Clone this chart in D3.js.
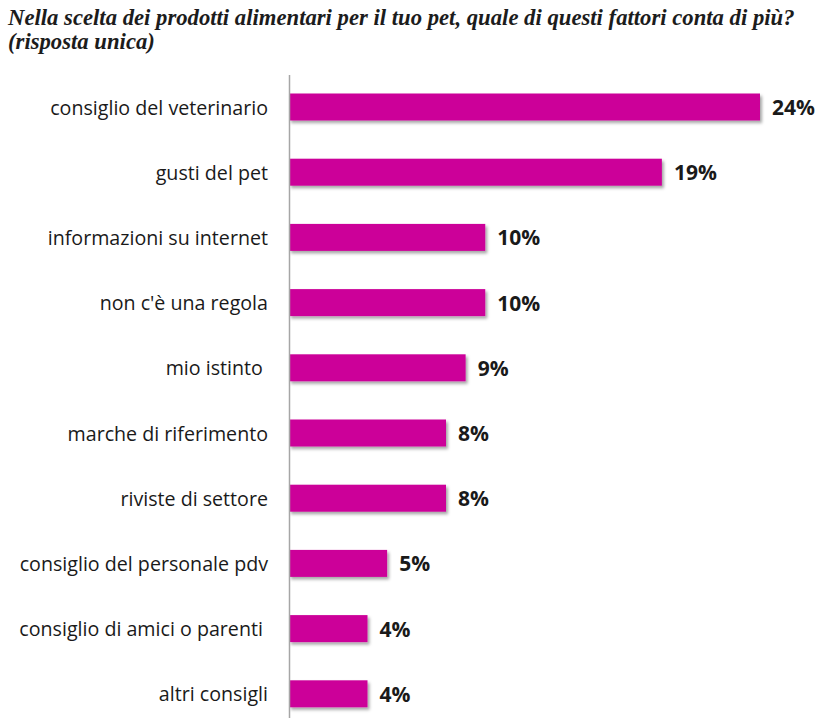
<!DOCTYPE html>
<html>
<head>
<meta charset="utf-8">
<script src="https://cdn.jsdelivr.net/npm/d3@7"></script>
<style>
  html, body { margin: 0; padding: 0; background: #fff; }
  svg { display: block; }
  .cat { white-space: pre; }
</style>
</head>
<body>
<script>
// Survey answers: which factor matters most when choosing pet food
const categories = [
  "consiglio del veterinario",
  "gusti del pet",
  "informazioni su internet",
  "non c'è una regola",
  "mio istinto ",
  "marche di riferimento",
  "riviste di settore",
  "consiglio del personale pdv",
  "consiglio di amici o parenti ",
  "altri consigli"
];
const values = [24, 19, 10, 10, 9, 8, 8, 5, 4, 4];
const titleLines = [
  "Nella scelta dei prodotti alimentari per il tuo pet, quale di questi fattori conta di più?",
  "(risposta unica)"
];

const W = 816, H = 718;
const svg = d3.select("body").append("svg").attr("width", W).attr("height", H);

// soft shadow under the bars
const defs = svg.append("defs");
const f = defs.append("filter").attr("id", "shadow")
  .attr("x", "-5%").attr("y", "-30%").attr("width", "115%").attr("height", "180%");
f.append("feDropShadow").attr("dx", 2).attr("dy", 2.5).attr("stdDeviation", 1.6)
  .attr("flood-color", "#000").attr("flood-opacity", 0.35);

const x = d3.scaleLinear().domain([0, 24]).range([289, 760]);
const y = d3.scaleBand().domain(categories).range([74.4, 726.4])
  .paddingInner(0.586).paddingOuter(0.293);

// scale a text selection so that its first node spans the given width
function fitWidth(sel, base, target) {
  sel.attr("font-size", base);
  const w = sel.node().getComputedTextLength();
  sel.attr("font-size", base * target / w);
}

// title
const title = svg.append("g");
titleLines.forEach((t, i) => {
  title.append("text")
    .attr("x", 8).attr("y", 25 + i * 24)
    .attr("font-family", "'Liberation Serif', 'DejaVu Serif', serif")
    .attr("font-style", "italic").attr("font-weight", "bold")
    .attr("fill", "#1c1c1c")
    .text(t);
});
fitWidth(title.selectAll("text"), 19, 787);

// bars
svg.append("g").selectAll("rect").data(values).join("rect")
  .attr("x", x(0))
  .attr("y", (d, i) => y(categories[i]))
  .attr("width", d => x(d) - x(0))
  .attr("height", y.bandwidth())
  .attr("fill", "#cc0099")
  .attr("filter", "url(#shadow)");

// axis line
svg.append("line")
  .attr("x1", 289.5).attr("x2", 289.5)
  .attr("y1", 75).attr("y2", H)
  .attr("stroke", "#a6a6a6").attr("stroke-width", 1.5);

// category labels
const cats = svg.append("g").selectAll("text").data(categories).join("text")
  .attr("class", "cat")
  .attr("x", 268)
  .attr("y", d => y(d) + y.bandwidth() / 2)
  .attr("text-anchor", "end")
  .attr("dominant-baseline", "central")
  .attr("font-family", "'Open Sans', 'Noto Sans', sans-serif")
  .attr("fill", "#1a1a1a")
  .text(d => d);
fitWidth(cats, 17, 218);

// value labels
const vals = svg.append("g").selectAll("text").data(values).join("text")
  .attr("x", d => x(d) + 12)
  .attr("y", (d, i) => y(categories[i]) + y.bandwidth() / 2)
  .attr("dominant-baseline", "central")
  .attr("font-family", "'Open Sans', 'Noto Sans', sans-serif")
  .attr("font-weight", "bold")
  .attr("fill", "#1a1a1a")
  .text(d => d + "%");
fitWidth(vals, 18, 43);
</script>
</body>
</html>
